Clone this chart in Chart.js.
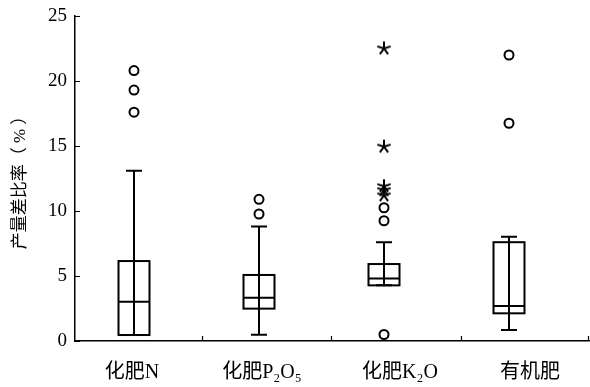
<!DOCTYPE html>
<html>
<head>
<meta charset="utf-8">
<script src="https://cdn.jsdelivr.net/npm/chart.js@4"></script>
<style>
  html, body { margin: 0; padding: 0; background: #fff; }
  #wrap { width: 590px; height: 387px; }
</style>
</head>
<body>
<div id="wrap"><canvas id="chart"></canvas></div>
<script>
// groups (yield difference ratio, %)
const categories = ["化肥N", "化肥P₂O₅", "化肥K₂O", "有机肥"];
const whiskerLow = [0.46, 0.49, 4.28, 0.85];
const q1 = [0.46, 2.49, 4.28, 2.13];
const median = [3.02, 3.33, 4.8, 2.7];
const q3 = [6.15, 5.08, 5.92, 7.6];
const whiskerHigh = [13.1, 8.8, 7.6, 8.02];
// mild outliers (circles) and extremes (stars), per group
const outliers = [[20.8, 19.3, 17.6], [10.9, 9.77], [10.25, 9.25, 0.5], [22.0, 16.75]];
const extremes = [[], [], [22.5, 14.95, 11.9, 11.6, 11.2], []];
const yTicks = [0, 5, 10, 15, 20, 25];

const serif = "'Liberation Serif', 'Noto Sans CJK SC', serif";

// the boxes sit a bit left of the label slots, as in the original
const labelAt = [0.984, 2.024, 3.128, 4.168];
const sepAt = [1.552, 2.584, 3.624, 4.64];

function toPoints(groups) {
  const pts = [];
  groups.forEach((vals, i) => vals.forEach(v => pts.push({ x: i + 1, y: v })));
  return pts;
}

// asterisk marker
function makeStar() {
  const c = document.createElement("canvas");
  c.width = 16; c.height = 16;
  const g = c.getContext("2d");
  g.strokeStyle = "#000";
  g.lineWidth = 2;
  for (let k = 0; k < 5; k++) {
    const a = -Math.PI / 2 + k * 2 * Math.PI / 5;
    g.beginPath();
    g.moveTo(8, 8);
    g.lineTo(8 + 7 * Math.cos(a), 8 + 7 * Math.sin(a));
    g.stroke();
  }
  return c;
}

const boxPlugin = {
  id: "boxes",
  beforeDatasetsDraw(chart) {
    const { ctx, scales: { x, y } } = chart;
    const half = 15.5, cap = 8;
    ctx.save();
    ctx.strokeStyle = "#000";
    ctx.lineWidth = 2;
    categories.forEach((c, i) => {
      const cx = x.getPixelForValue(i + 1);
      const yl = y.getPixelForValue(whiskerLow[i]);
      const yh = y.getPixelForValue(whiskerHigh[i]);
      const y1 = y.getPixelForValue(q1[i]);
      const y3 = y.getPixelForValue(q3[i]);
      const ym = y.getPixelForValue(median[i]);
      ctx.beginPath();
      ctx.moveTo(cx, yl); ctx.lineTo(cx, yh);
      ctx.moveTo(cx - cap, yh); ctx.lineTo(cx + cap, yh);
      ctx.moveTo(cx - cap, yl); ctx.lineTo(cx + cap, yl);
      ctx.moveTo(cx - half, ym); ctx.lineTo(cx + half, ym);
      ctx.stroke();
      ctx.strokeRect(cx - half, y3, half * 2, y1 - y3);
    });
    ctx.restore();
  },
  afterDraw(chart) {
    const { ctx, chartArea, scales: { x, y } } = chart;
    ctx.save();
    ctx.strokeStyle = "#000";
    ctx.lineWidth = 1.2;
    ctx.beginPath();
    yTicks.forEach(v => {
      const py = Math.round(y.getPixelForValue(v)) + 0.5;
      ctx.moveTo(chartArea.left, py); ctx.lineTo(chartArea.left + 5, py);
    });
    sepAt.forEach(v => {
      const px = Math.round(x.getPixelForValue(v)) - 0.5;
      ctx.moveTo(px, chartArea.bottom); ctx.lineTo(px, chartArea.bottom - 5);
    });
    ctx.stroke();
    ctx.restore();
  }
};

new Chart(document.getElementById("chart"), {
  type: "scatter",
  data: {
    datasets: [
      {
        label: "outliers",
        data: toPoints(outliers),
        pointStyle: "circle",
        pointRadius: 4.5,
        pointBorderWidth: 2,
        borderColor: "#000",
        backgroundColor: "rgba(0,0,0,0)",
        clip: false
      },
      {
        label: "extremes",
        data: toPoints(extremes),
        pointStyle: makeStar(),
        clip: false
      }
    ]
  },
  options: {
    responsive: true,
    maintainAspectRatio: false,
    animation: false,
    layout: { autoPadding: false, padding: { top: 16, right: 1, left: 0, bottom: 0 } },
    plugins: { legend: { display: false }, tooltip: { enabled: false } },
    scales: {
      x: {
        type: "linear",
        min: 0.528,
        max: 4.64,
        grid: { display: false, drawTicks: false },
        border: { display: true, color: "#000", width: 1.5 },
        afterBuildTicks: s => { s.ticks = labelAt.map(v => ({ value: v })); },
        ticks: {
          autoSkip: false,
          maxRotation: 0,
          padding: 20,
          color: "#000",
          font: { family: serif, size: 20 },
          callback: (v, i) => categories[i]
        },
        afterFit: s => { s.height = 46; s.paddingLeft = 0; s.paddingRight = 0; }
      },
      y: {
        min: 0,
        max: 25,
        grid: { display: false, drawTicks: false },
        border: { display: true, color: "#000", width: 1.5 },
        afterBuildTicks: s => { s.ticks = yTicks.map(v => ({ value: v })); },
        ticks: {
          padding: 8,
          color: "#000",
          font: { family: serif, size: 19 }
        },
        title: {
          display: true,
          text: "产量差比率（ % ）",
          color: "#000",
          font: { family: serif, size: 17 },
          padding: { top: 10, bottom: 0 }
        },
        afterFit: s => { s.width = 75; s.paddingTop = 0; s.paddingBottom = 0; }
      }
    }
  },
  plugins: [boxPlugin]
});
</script>
</body>
</html>
